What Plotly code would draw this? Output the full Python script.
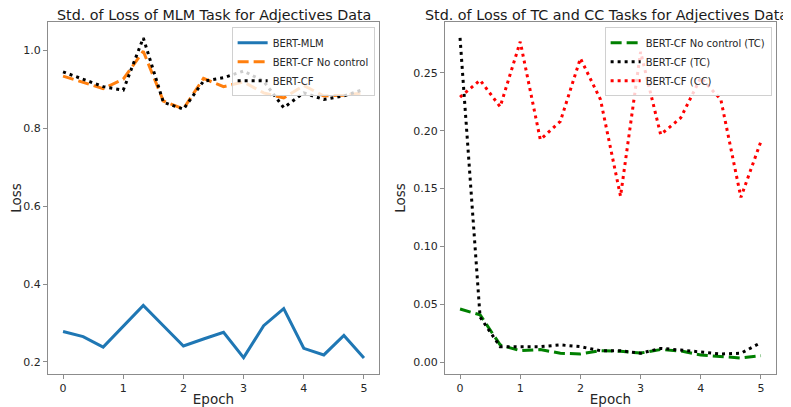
import plotly.graph_objects as go

epochs = [i / 3 for i in range(16)]

mlm_bert_mlm = [0.278, 0.265, 0.238, 0.292, 0.345, 0.293, 0.241, 0.259,
                0.276, 0.211, 0.293, 0.337, 0.235, 0.218, 0.268, 0.210]
mlm_cf_noctrl = [0.934, 0.919, 0.902, 0.926, 0.998, 0.870, 0.850, 0.928,
                 0.907, 0.919, 0.891, 0.878, 0.910, 0.883, 0.885, 0.891]
mlm_cf = [0.945, 0.926, 0.907, 0.898, 1.032, 0.867, 0.849, 0.921,
          0.930, 0.947, 0.921, 0.853, 0.891, 0.874, 0.883, 0.900]

tc_cf_noctrl = [0.046, 0.041, 0.015, 0.010, 0.011, 0.0078, 0.0072, 0.010,
                0.0095, 0.008, 0.011, 0.0098, 0.0063, 0.0049, 0.0037, 0.0057]
tc_cf = [0.280, 0.039, 0.0135, 0.0135, 0.0135, 0.015, 0.0135, 0.010,
         0.010, 0.0078, 0.012, 0.0106, 0.0092, 0.0072, 0.0078, 0.017]
cc_cf = [0.229, 0.2436, 0.2206, 0.2768, 0.1923, 0.208, 0.2624, 0.2269,
         0.1433, 0.268, 0.1966, 0.211, 0.2457, 0.2269, 0.1424, 0.1908]

x_ticks = [0, 1, 2, 3, 4, 5]
left_yticks = [0.2, 0.4, 0.6, 0.8, 1.0]
right_yticks = [0.0, 0.05, 0.10, 0.15, 0.20, 0.25]

title_left = "Std. of Loss of MLM Task for Adjectives Data"
title_right = "Std. of Loss of TC and CC Tasks for Adjectives Data"

FONT = "DejaVu Sans"
fig = go.Figure()

LW = 3
fig.add_trace(go.Scatter(x=epochs, y=mlm_bert_mlm, mode="lines", name="BERT-MLM",
                         line=dict(color="#1f77b4", width=LW), xaxis="x", yaxis="y",
                         legend="legend"))
fig.add_trace(go.Scatter(x=epochs, y=mlm_cf_noctrl, mode="lines", name="BERT-CF No control",
                         line=dict(color="#ff7f0e", width=LW, dash="11px,5px"),
                         xaxis="x", yaxis="y", legend="legend"))
fig.add_trace(go.Scatter(x=epochs, y=mlm_cf, mode="lines", name="BERT-CF",
                         line=dict(color="black", width=LW, dash="3px,4px"),
                         xaxis="x", yaxis="y", legend="legend"))

fig.add_trace(go.Scatter(x=epochs, y=tc_cf_noctrl, mode="lines", name="BERT-CF No control (TC)",
                         line=dict(color="green", width=LW, dash="11px,5px"),
                         xaxis="x2", yaxis="y2", legend="legend2"))
fig.add_trace(go.Scatter(x=epochs, y=tc_cf, mode="lines", name="BERT-CF (TC)",
                         line=dict(color="black", width=LW, dash="3px,4px"),
                         xaxis="x2", yaxis="y2", legend="legend2"))
fig.add_trace(go.Scatter(x=epochs, y=cc_cf, mode="lines", name="BERT-CF (CC)",
                         line=dict(color="red", width=LW, dash="3px,4px"),
                         xaxis="x2", yaxis="y2", legend="legend2"))

# the page body adds an 8px offset, so the figure is 8px smaller each way
OFF = 8
W, H = 791 - OFF, 407 - OFF
ml, mr, mt, mb = 48 - OFF, 15, 22 - OFF, 33
pw = W - ml - mr
d1 = [0, (379 - 48) / pw]
d2 = [(445 - 48) / pw, 1]

axis_common = dict(
    showgrid=False, zeroline=False, showline=True, mirror=True,
    linecolor="#8c8c8c", linewidth=1.2, ticks="outside", ticklen=4,
    tickcolor="#8c8c8c", tickwidth=1, automargin=False,
    tickfont=dict(family=FONT, size=11, color="#262626"),
)
atitle = dict(family=FONT, size=13.5, color="#262626")

fig.update_layout(
    width=W, height=H,
    margin=dict(l=ml, r=mr, t=mt, b=mb),
    paper_bgcolor="white", plot_bgcolor="white",
    font=dict(family=FONT, color="#262626"),
    xaxis=dict(domain=d1, range=[-0.25, 5.25], tickvals=x_ticks, anchor="y",
               title=dict(text="Epoch", font=atitle, standoff=0),
               **axis_common),
    yaxis=dict(domain=[0, 1], range=[0.169, 1.073], tickvals=left_yticks,
               tickformat=".1f", anchor="x",
               title=dict(text="Loss", font=atitle, standoff=4),
               **axis_common),
    xaxis2=dict(domain=d2, range=[-0.25, 5.25], tickvals=x_ticks, anchor="y2",
                title=dict(text="Epoch", font=atitle, standoff=0),
                **axis_common),
    yaxis2=dict(domain=[0, 1], range=[-0.0101, 0.2938], tickvals=right_yticks,
                tickformat=".2f", anchor="x2",
                title=dict(text="Loss", font=atitle, standoff=4),
                **axis_common),
    legend=dict(x=d1[1] - 0.006, y=0.985, xanchor="right", yanchor="top",
                bgcolor="rgba(255,255,255,0.8)", bordercolor="#d0d0d0", borderwidth=1,
                font=dict(family=FONT, size=10, color="#262626"),
                tracegroupgap=0, itemwidth=30),
    legend2=dict(x=d2[1] - 0.006, y=0.985, xanchor="right", yanchor="top",
                 bgcolor="rgba(255,255,255,0.8)", bordercolor="#d0d0d0", borderwidth=1,
                 font=dict(family=FONT, size=10, color="#262626"),
                 tracegroupgap=0, itemwidth=30),
    annotations=[
        dict(text=title_left, xref="paper", yref="paper", x=(d1[0] + d1[1]) / 2, y=1,
             xanchor="center", yanchor="bottom", yshift=-3, showarrow=False,
             font=dict(family=FONT, size=14.3, color="#1a1a1a")),
        dict(text=title_right, xref="paper", yref="paper", x=1, y=1,
             xanchor="right", yanchor="bottom", yshift=-3, xshift=14, showarrow=False,
             font=dict(family=FONT, size=14.3, color="#1a1a1a")),
    ],
)

fig.write_html("out.html")
